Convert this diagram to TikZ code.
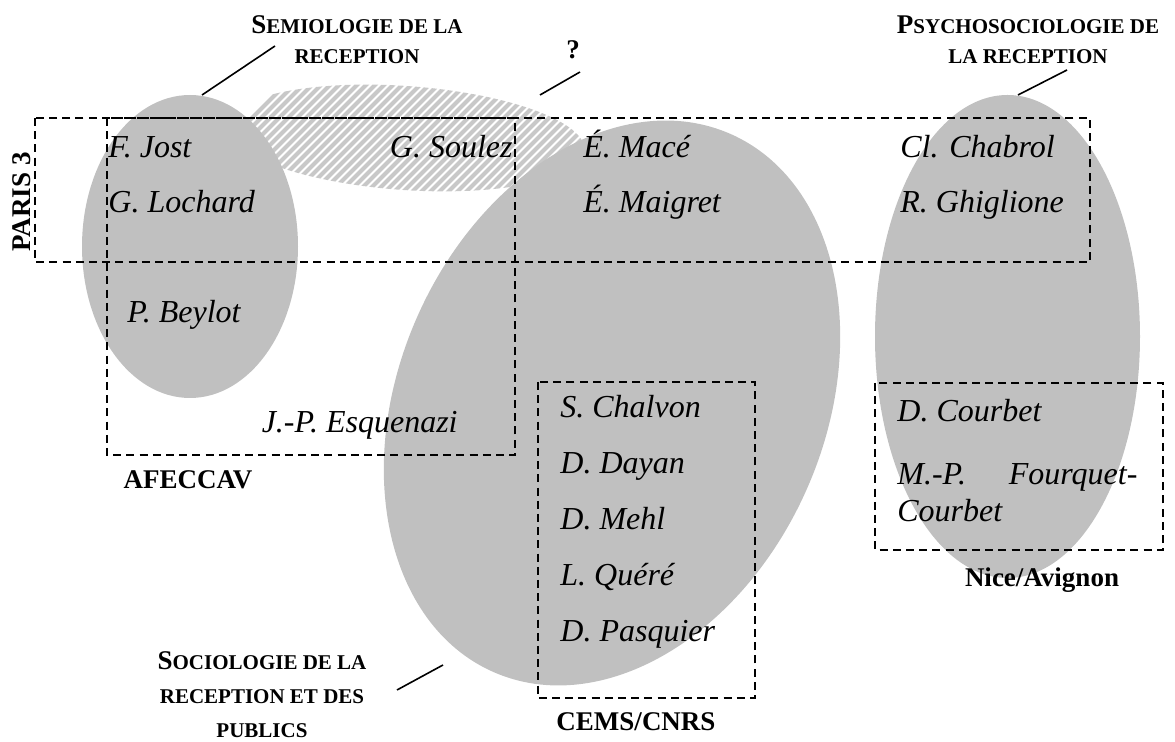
\documentclass[tikz,border=0pt]{standalone}
\usepackage{fontspec}
\setmainfont{Liberation Serif}
\usetikzlibrary{positioning,calc}
\definecolor{blobgray}{HTML}{C0C0C0}
\definecolor{hatchgray}{HTML}{C8C8C8}
\newcommand{\smc}[1]{{\fontsize{10.5}{12}\selectfont #1}}
\tikzset{blob/.style={fill=blobgray,draw=none},
  zone/.style={draw=black,dash pattern=on 4pt off 2.6pt,line width=0.9pt},
  who/.style={font=\fontsize{16}{19}\selectfont\itshape,inner sep=0pt,anchor=base west},
  tag/.style={font=\fontsize{13.5}{15}\selectfont\bfseries,align=center,inner sep=0pt},
  lead/.style={line width=0.8pt}}

\begin{document}
\begin{tikzpicture}[x=0.5pt,y=-0.5pt]
\useasboundingbox (0,0) rectangle (1175,742);
% hatched zone, under the others
\begin{scope}
\clip[rotate around={-4:(405,138)}] (405,138) ellipse [x radius=180,y radius=52];
\foreach \k in {0,...,60}{\draw[hatchgray,line width=2.1pt] (150+\k*9,220)--++(160,-160);}
\end{scope}
% the three fields
\fill[blob] (190,246.5) ellipse [x radius=108,y radius=151.5];
\fill[blob,rotate around={-23.8:(612,403)}] (612,403) ellipse [x radius=213,y radius=294];
\fill[blob] (1007.5,336.5) ellipse [x radius=132.5,y radius=241.5];
% institutions
\draw[zone] (35,118) rectangle (1090,262);
\draw[zone] (107,118) rectangle (515,455);
\draw[zone] (538,382) rectangle (755,698);
\draw[zone] (875,383) rectangle (1163,550);
% names
\node[who] (jost) at (108,158) {F. Jost};
\node[who] (lochard) at (108,213) {G. Lochard};
\node[who] (beylot) at (127,323) {P. Beylot};
\node[who,anchor=base east] (soulez) at (513,158) {G. Soulez};
\node[who,anchor=base east] (esquenazi) at (458,433) {J.-P. Esquenazi};
\node[who] (mace) at (583,158) {É. Macé};
\node[who] (maigret) at (583,213) {É. Maigret};
\node[who] (chabrol) at (900,158) {Cl. Chabrol};
\node[who] (ghiglione) at (900,213) {R. Ghiglione};
\foreach \n/\t [count=\i from 0] in {chalvon/S. Chalvon,dayan/D. Dayan,mehl/D. Mehl,quere/L. Quéré,pasquier/D. Pasquier}
  \node[who] (\n) at (560,418+\i*56) {\t};
\node[who] (courbet) at (897,422) {D. Courbet};
\node[who,anchor=north west,text width=120pt,align=justify,font=\fontsize{16}{18.5}\selectfont\itshape]
  (fourquet) at (897,463) {\tolerance=9999 \hbadness=10000 M.-P. Fourquet-Courbet};
% labels
\node[tag] (semio) at (357,40) {S\smc{EMIOLOGIE DE LA}\\\smc{RECEPTION}};
\node[tag] (qmark) at (573,50) {?};
\node[tag] (psycho) at (1028,40) {P\smc{SYCHOSOCIOLOGIE DE}\\\smc{LA RECEPTION}};
\node[tag,font=\fontsize{13.5}{17}\selectfont\bfseries] (socio) at (262,695) {S\smc{OCIOLOGIE DE LA}\\\smc{RECEPTION ET DES}\\\smc{PUBLICS}};
\node[tag,rotate=90] (paris) at (22,202) {PARIS 3};
\node[tag] (afeccav) at (188,480) {AFECCAV};
\node[tag] (cems) at (636,722) {CEMS/CNRS};
\node[tag] (nice) at (1042,580) {Nice/Avignon};
% leaders
\coordinate (semtip) at (202,95);
\coordinate (semend) at (275,46);
\coordinate (qtip) at (540,95);
\coordinate (qend) at (580,72);
\coordinate (psytip) at (1018,95);
\coordinate (psyend) at (1067,70);
\coordinate (soctip) at (443,665);
\coordinate (socend) at (397,690);
\draw[lead] (semtip)--(semend);
\draw[lead] (qtip)--(qend);
\draw[lead] (psytip)--(psyend);
\draw[lead] (soctip)--(socend);
\end{tikzpicture}
\end{document}
